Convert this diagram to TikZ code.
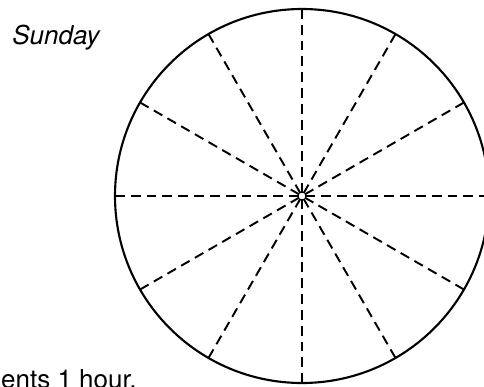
\documentclass[tikz,border=0pt]{standalone}
\usepackage{fontspec}
\setsansfont{TeX Gyre Heros}
\usetikzlibrary{calc}

\tikzset{
	rim/.style={line width=1.2pt},
	spoke/.style={line width=1.1pt, dash pattern=on 5.6pt off 3.4pt},
	label/.style={inner sep=0pt, font=\sffamily\fontsize{14.8}{17}\selectfont}
}

\begin{document}
\begin{tikzpicture}[x=0.02cm, y=-0.02cm]
	\useasboundingbox (0,0) rectangle (484,386);
	\clip (0,0) rectangle (484,386);
	\coordinate (o) at (302,196);
	\draw[rim] (o) circle[radius=187];
	\foreach \a in {0,30,...,330} {
		\path (o) ++(\a:187) coordinate (r\a);
		\draw[spoke] (r\a) -- (o);
	}
	\node[label, anchor=base west] (day) at (12,44) {\itshape Sunday};
	\node[label, anchor=base east] (note) at (137,388) {ents 1 hour.};
\end{tikzpicture}
\end{document}
